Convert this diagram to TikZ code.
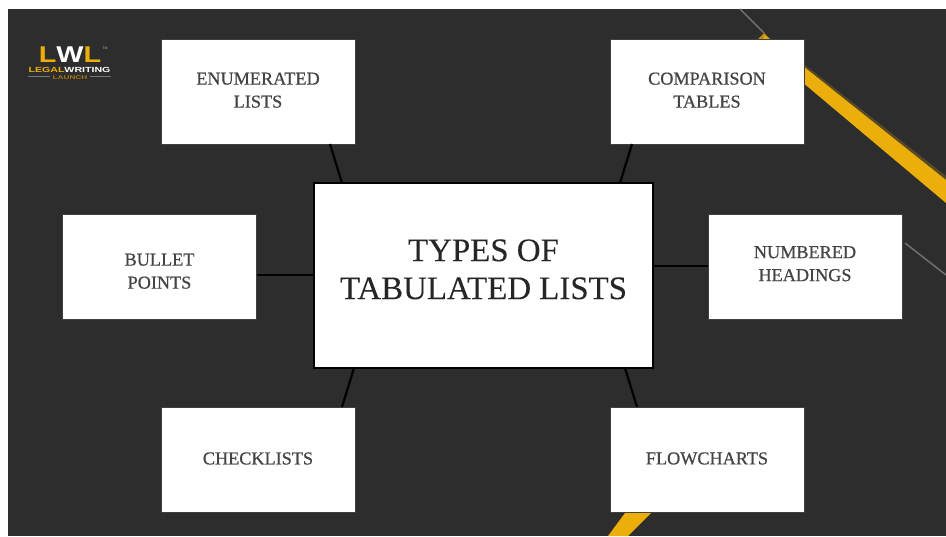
\documentclass[tikz,border=0pt]{standalone}
\usepackage{fontspec}
\setmainfont{Liberation Serif}
\newfontfamily\logofont{Liberation Sans}
\newfontfamily\boxfont[FakeBold=0.7]{Liberation Serif}
\newfontfamily\mainboxfont[FakeBold=0.15]{Liberation Serif}
\usetikzlibrary{calc}
\definecolor{bgdark}{HTML}{2E2D2D}
\definecolor{gold}{HTML}{EBAE0B}
\definecolor{inktext}{HTML}{444444}
\newcommand{\liftby}[2]{\raisebox{#1}[\height][\depth]{#2}}
\tikzset{
  smallbox/.style={fill=white,draw=black!75,line width=0.8pt,inner sep=0pt,outer sep=0pt,
    minimum width=194pt,minimum height=105pt,align=center,text=inktext,
    font=\boxfont\fontsize{18.2}{23}\selectfont},
  mainbox/.style={fill=white,draw=black,line width=1.2pt,inner sep=0pt,outer sep=0pt,
    minimum width=339pt,minimum height=185pt,align=center,text=black!85,
    font=\mainboxfont\fontsize{32.9}{38}\selectfont},
  linkline/.style={draw=black,line width=2.2pt},
  faint/.style={draw=white!30!bgdark,line width=1.6pt}
}
\begin{document}
\begin{tikzpicture}[x=1pt,y=-1pt]
\useasboundingbox (0,0) rectangle (946,536);
\fill[white] (0,0) rectangle (946,536);
\fill[bgdark] (8,9) rectangle (946,536);
% decoration
\draw[faint] (740,9) -- (764,33);
\draw[faint] (905,243) -- (946,275);
\fill[gold!22!bgdark] (805,65) -- (946,176) -- (946,182) -- (805,70) -- cycle;
\fill[gold!75!bgdark] (758,39) -- (764,33) -- (770,39) -- cycle;
\fill[gold] (764,35) -- (946,180) -- (946,203) -- (764,50) -- cycle;
\fill[gold] (625,513) -- (651,513) -- (628,536) -- (608,536) -- cycle;
% logo
\node[inner sep=0pt,font=\logofont\bfseries\fontsize{24}{24}\selectfont,text=gold] (logomark) at (70,55)
  {\scalebox{1.2}[0.95]{L\textcolor{white}{W}L}};
\node[inner sep=0pt,font=\logofont\bfseries\fontsize{7.8}{8}\selectfont,text=gold] (logoname) at (69.5,70)
  {\scalebox{1.36}[0.95]{LEGAL\textcolor{white}{WRITING}}};
\node[inner sep=0pt,font=\logofont\bfseries\fontsize{5.5}{6}\selectfont,text=gold!70!black] (logosub) at (70,77.5) {\scalebox{1.5}[1]{LAUNCH}};
\node[inner sep=0pt,font=\logofont\fontsize{3.5}{4}\selectfont,text=white!70!black] (logotm) at (105,48) {TM};
\coordinate (ruleLa) at (28,76.5);
\coordinate (ruleLb) at (50,76.5);
\coordinate (ruleRa) at (90,76.5);
\coordinate (ruleRb) at (111,76.5);
\draw[white!35!bgdark,line width=0.5pt] (ruleLa) -- (ruleLb) (ruleRa) -- (ruleRb);
% boxes
\node[mainbox] (main) at (483.5,275.5) {\liftby{3pt}{\begin{tabular}{@{}c@{}}TYPES OF\\TABULATED LISTS\end{tabular}}};
\node[smallbox] (enum) at (258,91.5) {\begin{tabular}{@{}c@{}}ENUMERATED\\LISTS\end{tabular}};
\node[smallbox] (comp) at (707,91.5) {\begin{tabular}{@{}c@{}}COMPARISON\\TABLES\end{tabular}};
\node[smallbox] (bullet) at (159.5,267) {\liftby{-5.5pt}{\begin{tabular}{@{}c@{}}BULLET\\POINTS\end{tabular}}};
\node[smallbox] (numb) at (805,267) {\liftby{2pt}{\begin{tabular}{@{}c@{}}NUMBERED\\HEADINGS\end{tabular}}};
\node[smallbox] (check) at (258,459.5) {\liftby{1pt}{CHECKLISTS}};
\node[smallbox] (flow) at (707,459.5) {\liftby{1pt}{FLOWCHARTS}};
% connectors
\draw[linkline] ($(enum.south)+(72,0)$) -- ($(main.north)+(-141.5,0)$);
\draw[linkline] ($(comp.south)+(-75,0)$) -- ($(main.north)+(136.5,0)$);
\draw[linkline] ($(bullet.east)+(0,8)$) -- ($(main.west)+(0,-0.5)$);
\draw[linkline] ($(numb.west)+(0,-1)$) -- ($(main.east)+(0,-9.5)$);
\draw[linkline] ($(main.south)+(-129.5,0)$) -- ($(check.north)+(84,0)$);
\draw[linkline] ($(main.south)+(141.5,0)$) -- ($(flow.north)+(-70,0)$);
\end{tikzpicture}
\end{document}
